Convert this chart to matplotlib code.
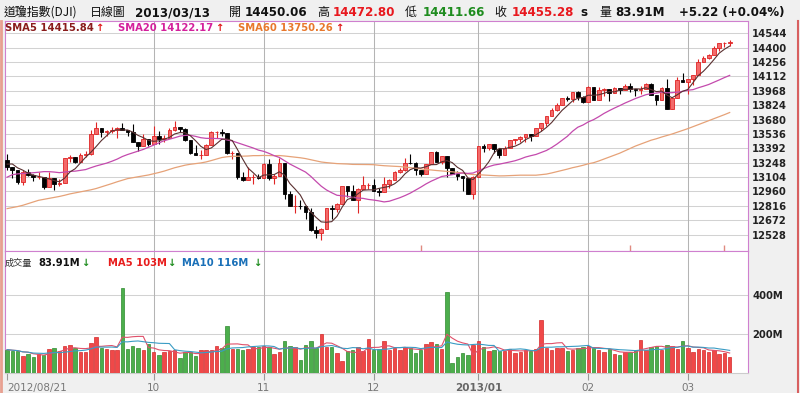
import numpy as np
import pandas as pd
import matplotlib
matplotlib.use("Agg")
import matplotlib.pyplot as plt
from matplotlib.lines import Line2D

# DJI daily closes 2012/08/21 - 2013/03/13
closes = [
    13203.58, 13172.76, 13057.46, 13157.97, 13124.67, 13102.99, 13107.48, 13000.71, 13090.84,
    13035.94, 13047.48, 13292.00, 13306.64, 13254.29, 13323.36, 13333.35, 13539.86, 13593.37, 13553.10,
    13564.64, 13577.96, 13596.93, 13579.47, 13558.92, 13457.55, 13413.51, 13485.97, 13437.13,
    13515.11, 13482.36, 13494.61, 13575.36, 13610.15, 13583.65, 13473.53, 13344.97, 13326.39, 13328.85,
    13424.33, 13551.78, 13557.00, 13548.94, 13343.51, 13345.89, 13102.53, 13077.34, 13103.68, 13107.21, 13096.46,
    13232.62, 13093.16, 13112.44, 13245.68, 12932.73, 12811.32, 12815.39, 12815.08, 12756.18, 12570.95,
    12542.38, 12588.31, 12795.96, 12788.51, 12836.89, 13009.68, 12967.37, 12878.13, 12985.11, 13021.82, 13025.58,
    12965.60, 12951.78, 13034.49, 13074.04, 13155.13, 13169.88, 13248.44, 13245.45, 13170.72, 13135.01,
    13235.39, 13350.96, 13251.97, 13311.72, 13190.84, 13139.08, 13114.59, 13096.31, 12938.11, 13104.14,
    13412.55, 13391.36, 13435.21, 13384.29, 13328.85, 13390.51, 13471.22, 13488.43, 13507.32, 13534.89,
    13511.23, 13596.02, 13649.70, 13712.21, 13779.33, 13825.33, 13895.98, 13881.93, 13954.42, 13910.42, 13860.58,
    14009.79, 13880.08, 13979.30, 13986.52, 13944.05, 13992.97, 13971.24, 14018.70, 13982.91, 13973.39,
    13981.76, 14035.67, 13927.54, 13880.62, 14000.57, 13784.17, 13900.13, 14075.37, 14054.49,
    14089.66, 14127.82, 14253.77, 14296.24, 14329.49, 14397.07, 14447.75, 14450.06, 14455.28,
]

highs = [
    13330, 13204, 13173, 13176, 13185, 13133, 13152, 13107, 13158,
    13091, 13087, 13292, 13323, 13308, 13340, 13363, 13573, 13653, 13593,
    13578, 13603, 13601, 13647, 13580, 13636, 13457, 13531, 13485,
    13620, 13568, 13530, 13595, 13661, 13610, 13592, 13474, 13421, 13378,
    13431, 13565, 13564, 13588, 13548, 13368, 13345, 13155, 13203, 13133, 13135,
    13241, 13289, 13135, 13290, 13245, 12965, 12923, 12870, 12815, 12792,
    12611, 12590, 12798, 12823, 12848, 13009, 13009, 13026, 12993, 13111, 13048,
    13081, 12994, 13102, 13080, 13160, 13190, 13298, 13331, 13254, 13174,
    13235, 13351, 13360, 13312, 13311, 13191, 13162, 13118, 13096, 13110,
    13412, 13430, 13436, 13435, 13384, 13417, 13478, 13488, 13510, 13536,
    13535, 13599, 13650, 13715, 13794, 13843, 13896, 13915, 13955, 13969, 13911,
    14019, 14009, 14008, 13993, 13987, 14004, 13992, 14036, 14049, 13983,
    14017, 14046, 14043, 13927, 14001, 14082, 13906, 14108, 14149,
    14090, 14128, 14286, 14320, 14335, 14413, 14448, 14460, 14472.80,
]

lows = [
    13177, 13099, 13036, 13020, 13110, 13062, 13087, 12986, 13000,
    12972, 13013, 13047, 13258, 13248, 13254, 13305, 13323, 13540, 13506,
    13519, 13546, 13498, 13575, 13516, 13456, 13365, 13413, 13413,
    13437, 13432, 13455, 13494, 13565, 13554, 13467, 13337, 13326, 13283,
    13327, 13424, 13499, 13514, 13330, 13282, 13088, 13063, 13078, 13036, 13081,
    13096, 13078, 13037, 13112, 12885, 12810, 12743, 12784, 12685, 12562,
    12493, 12471, 12588, 12687, 12757, 12837, 12900, 12875, 12743, 12985, 12988,
    12964, 12917, 12952, 12994, 13074, 13148, 13169, 13236, 13127, 13117,
    13135, 13235, 13251, 13237, 13104, 13135, 13071, 12964, 12938, 12883,
    13104, 13354, 13376, 13344, 13291, 13329, 13390, 13434, 13459, 13450,
    13469, 13511, 13566, 13612, 13712, 13766, 13825, 13870, 13858, 13880, 13849,
    13860, 13879, 13880, 13918, 13869, 13944, 13936, 13971, 13952, 13918,
    13939, 13981, 13925, 13822, 13880, 13783, 13785, 13900, 14054,
    13937, 14022, 14128, 14253, 14286, 14329, 14366, 14402, 14411.66,
]

# DJI opens at the previous session's close (2012/08/20 close first)
opens = [13271.64] + closes[:-1]

# closes before 2012/08/21, needed for SMA20 / SMA60
prior_closes = [
    12580.69, 12419.86, 12393.45,
    12118.57, 12101.46, 12127.95, 12414.79, 12460.96, 12554.20, 12411.23, 12573.80, 12496.38, 12651.91,
    12767.17, 12741.82, 12837.33, 12824.39, 12573.57, 12640.78, 12502.66, 12534.67, 12627.01, 12602.26, 12880.09,
    12871.39, 12943.36, 12896.67, 12772.47, 12736.29, 12653.12, 12604.53, 12573.27, 12777.09, 12727.21,
    12805.54, 12908.70, 12943.33, 12822.57, 12721.46, 12617.32, 12676.05, 12887.93, 13075.66, 13073.01, 13008.68,
    13008.47, 12878.88, 13096.17, 13117.51, 13168.60, 13175.64, 13165.19, 13207.95, 13169.43, 13172.14,
    13164.78, 13250.11, 13275.20, 13271.64,
]

# volume in millions
volumes = [
    120, 114, 111, 89, 100, 80, 96, 94, 121,
    126, 113, 138, 144, 126, 109, 109, 155, 185, 126,
    121, 118, 118, 436, 121, 138, 126, 118, 149,
    109, 92, 109, 114, 118, 75, 109, 109, 87, 118,
    118, 118, 138, 126, 241, 121, 121, 118, 121, 135, 135,
    138, 132, 96, 109, 166, 138, 132, 67, 144, 164,
    130, 200, 135, 135, 101, 63, 114, 118, 132, 114, 173,
    118, 123, 164, 118, 127, 118, 132, 130, 104, 118,
    149, 159, 149, 121, 417, 50, 80, 104, 91, 144,
    166, 132, 111, 118, 115, 112, 125, 105, 110, 118,
    112, 122, 272, 130, 118, 130, 128, 115, 120, 128, 135,
    140, 130, 118, 110, 122, 100, 92, 108, 110, 118,
    170, 120, 135, 140, 120, 142, 138, 125, 165,
    130, 110, 125, 118, 108, 120, 98, 103, 83.91,
]

month_idx = [0, 28, 49, 70, 90, 111, 130]
month_labels = ["2012/08/21", "10", "11", "12", "2013/01", "02", "03"]
price_ticks = [12528, 12672, 12816, 12960, 13104, 13248, 13392, 13536,
               13680, 13824, 13968, 14112, 14256, 14400, 14544]
vol_ticks = [200, 400]
vol_tick_labels = ["200M", "400M"]
event_idx = [79, 119, 137]

CJK = ["Noto Sans CJK TC", "DejaVu Sans"]
W, H = 800, 393


def fx(px):
    return px / W


def fy(py):
    return 1 - py / H


o = np.array(opens)
c = np.array(closes)
hi = np.array(highs)
lo = np.array(lows)
v = np.array(volumes)
x = np.arange(len(c))
up = c >= o

allc = pd.Series(prior_closes + closes)
n = len(closes)
sma5 = allc.rolling(5).mean().values[-n:]
sma20 = allc.rolling(20).mean().values[-n:]
sma60 = allc.rolling(60).mean().values[-n:]
vma5 = pd.Series(volumes).rolling(5, min_periods=1).mean().values
vma10 = pd.Series(volumes).rolling(10, min_periods=1).mean().values

fig = plt.figure(figsize=(8, 3.93), dpi=100, facecolor="#f0f0f0")
ax = fig.add_axes([fx(5), fy(251), fx(748) - fx(5), fy(21) - fy(251)])
axv = fig.add_axes([fx(5), fy(373), fx(748) - fx(5), fy(251) - fy(373)], sharex=ax)

red_fill, red_edge = "#f36a6a", "#e02424"
# price panel
ax.set_facecolor("white")
ax.vlines(x[up], lo[up], hi[up], color=red_edge, lw=0.8, zorder=3)
ax.vlines(x[~up], lo[~up], hi[~up], color="black", lw=0.8, zorder=3)
body_lo = np.minimum(o, c)
body_h = np.maximum(np.abs(c - o), 2)
ax.bar(x[up], body_h[up], bottom=body_lo[up], width=0.7,
       color=red_fill, edgecolor=red_edge, lw=0.6, zorder=4)
ax.bar(x[~up], body_h[~up], bottom=body_lo[~up], width=0.7,
       color="black", edgecolor="black", lw=0.6, zorder=4)
ax.plot(x, sma60, color="#e6a278", lw=0.9, zorder=5)
ax.plot(x, sma20, color="#c44aad", lw=0.9, zorder=5)
ax.plot(x, sma5, color="#5a3030", lw=0.8, zorder=5)
ax.plot(event_idx, [12395] * len(event_idx), "|", color="#e08a80", ms=4, mew=1, zorder=5)

ax.set_xlim(-0.4, 141.5)
ax.set_ylim(12363, 14667)
ax.set_yticks(price_ticks)
ax.yaxis.tick_right()
ax.tick_params(axis="y", length=0, pad=3, labelsize=7.2, labelcolor="#222222")
for t in ax.get_yticklabels():
    t.set_fontweight("bold")
ax.tick_params(axis="x", length=0, labelbottom=False)
ax.grid(axis="y", color="#d2d2d2", lw=0.75)
ax.set_axisbelow(True)
for m in month_idx[1:]:
    ax.axvline(m, color="#b4b4b4", lw=0.75, zorder=1)
    axv.axvline(m, color="#b4b4b4", lw=0.75, zorder=1)

# volume panel
axv.set_facecolor("white")
axv.bar(x[up], v[up], width=0.66, color="#f04848", edgecolor="#d42a2a", lw=0.5, zorder=3)
axv.bar(x[~up], v[~up], width=0.66, color="#4cae4c", edgecolor="#2f8a2f", lw=0.5, zorder=3)
axv.plot(x, vma5, color="#e0506a", lw=0.8, zorder=4)
axv.plot(x, vma10, color="#3a9cc4", lw=0.8, zorder=4)
axv.set_ylim(0, 626)
axv.set_yticks(vol_ticks)
axv.set_yticklabels(vol_tick_labels)
axv.yaxis.tick_right()
axv.tick_params(axis="y", length=0, pad=3, labelsize=7.2, labelcolor="#222222")
for t in axv.get_yticklabels():
    t.set_fontweight("bold")
axv.grid(axis="y", color="#d2d2d2", lw=0.75)
axv.set_axisbelow(True)
axv.set_xticks(month_idx)
axv.set_xticklabels(month_labels)
axv.tick_params(axis="x", length=5, color="#999999", width=0.8, labelsize=7.5,
                labelcolor="#777777", pad=2)
for t in axv.get_xticklabels():
    if t.get_text() == "2013/01":
        t.set_fontweight("bold")
        t.set_color("#666666")
    if t.get_text() == "2012/08/21":
        t.set_horizontalalignment("left")

for a in (ax, axv):
    for s in a.spines.values():
        s.set_color("#cf80cf")
        s.set_linewidth(0.8)
axv.spines["bottom"].set_color("#cccccc")

# figure borders (below the header row)
fig.add_artist(Line2D([fx(1), fx(1)], [0, fy(21)], color="#e8a090", lw=2))
fig.add_artist(Line2D([fx(798), fx(798)], [0, fy(21)], color="#d86060", lw=1.5))

# header
hy = fy(12.5)
fig.text(fx(4), hy, "道瓊指數(DJI)", family=CJK, fontsize=8.6, va="center", color="#111111")
fig.text(fx(90), hy, "日線圖", family=CJK, fontsize=8.6, va="center", color="#111111")
fig.text(fx(135), hy, "2013/03/13", fontsize=8.6, weight="bold", va="center", color="#111111")
fig.text(fx(229), hy, "開", family=CJK, fontsize=8.6, va="center", color="#111111")
fig.text(fx(245), hy, "14450.06", fontsize=8.6, weight="bold", va="center", color="#111111")
fig.text(fx(317), hy, "高", family=CJK, fontsize=8.6, va="center", color="#111111")
fig.text(fx(333), hy, "14472.80", fontsize=8.6, weight="bold", va="center", color="#e8181e")
fig.text(fx(405), hy, "低", family=CJK, fontsize=8.6, va="center", color="#111111")
fig.text(fx(423), hy, "14411.66", fontsize=8.6, weight="bold", va="center", color="#1e8c1e")
fig.text(fx(494), hy, "收", family=CJK, fontsize=8.6, va="center", color="#111111")
fig.text(fx(512), hy, "14455.28", fontsize=8.6, weight="bold", va="center", color="#e8181e")
fig.text(fx(580), hy, "s", fontsize=8.6, weight="bold", va="center", color="#111111")
fig.text(fx(599), hy, "量", family=CJK, fontsize=8.6, va="center", color="#111111")
fig.text(fx(615), hy, "83.91M", fontsize=8.6, weight="bold", va="center", color="#111111")
fig.text(fx(679), hy, "+5.22 (+0.04%)", fontsize=8.6, weight="bold", va="center", color="#111111")

# SMA legend
ly = fy(28.3)
fig.text(fx(5), ly, "SMA5 14415.84", fontsize=7.2, weight="bold", va="center", color="#8a1c1c")
fig.text(fx(95), ly, "↑", fontsize=7.2, weight="bold", va="center", color="#e01818")
fig.text(fx(118), ly, "SMA20 14122.17", fontsize=7.2, weight="bold", va="center", color="#d4209c")
fig.text(fx(215), ly, "↑", fontsize=7.2, weight="bold", va="center", color="#e01818")
fig.text(fx(238), ly, "SMA60 13750.26", fontsize=7.2, weight="bold", va="center", color="#e8782c")
fig.text(fx(335), ly, "↑", fontsize=7.2, weight="bold", va="center", color="#e01818")

# volume legend
vy = fy(263.3)
fig.text(fx(5), vy, "成交量", family=CJK, fontsize=6.6, va="center", color="#333333")
fig.text(fx(38), vy, "83.91M", fontsize=7.2, weight="bold", va="center", color="#111111")
fig.text(fx(81), vy, "↓", fontsize=7.2, weight="bold", va="center", color="#1e8c1e")
fig.text(fx(108), vy, "MA5 103M", fontsize=7.2, weight="bold", va="center", color="#e81c1c")
fig.text(fx(167), vy, "↓", fontsize=7.2, weight="bold", va="center", color="#1e8c1e")
fig.text(fx(182), vy, "MA10 116M", fontsize=7.2, weight="bold", va="center", color="#1a70b8")
fig.text(fx(253), vy, "↓", fontsize=7.2, weight="bold", va="center", color="#1e8c1e")

fig.savefig("out.png", dpi=100, facecolor=fig.get_facecolor())
